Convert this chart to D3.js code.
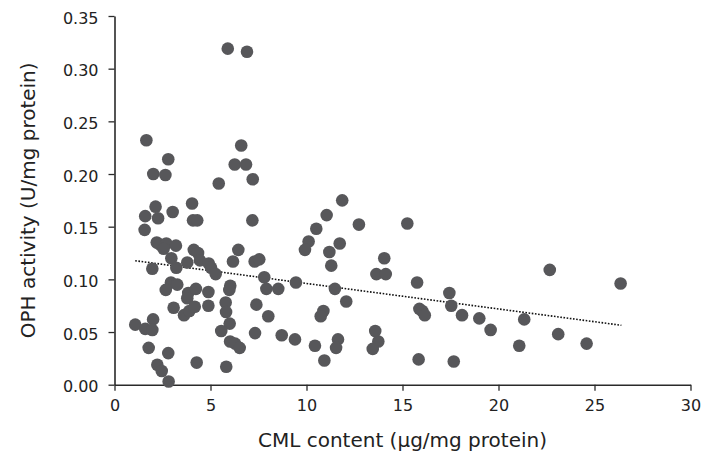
<!DOCTYPE html>
<html><head><meta charset="utf-8">
<script src="https://cdn.jsdelivr.net/npm/d3@7"></script>
<style>body{margin:0;background:#fff;} svg{display:block;}</style>
</head><body>
<script>
// CML content (µg/mg protein)
const cml = [5.90,6.90,1.66,6.60,2.80,6.26,6.85,2.02,2.65,7.20,5.43,2.14,3.03,4.04,
1.60,2.27,4.09,4.31,7.18,1.57,2.20,2.37,2.70,2.56,3.20,4.13,4.35,4.45,2.96,3.79,3.22,1.97,
4.91,5.03,5.27,6.45,6.17,7.30,7.54,7.80,9.45,2.94,3.27,2.67,3.84,4.24,3.79,4.89,6.03,5.98,
7.91,8.53,3.08,3.62,3.90,4.18,4.89,5.79,5.81,7.39,8.01,1.08,1.60,2.01,1.97,6.00,5.56,7.32,
8.71,9.40,1.78,2.80,6.02,6.28,6.52,2.23,2.46,4.28,5.82,2.82,
11.86,11.05,10.51,12.73,15.25,10.11,9.92,11.73,11.19,11.29,14.05,13.64,14.13,11.48,15.76,
17.44,17.54,12.07,10.88,10.74,15.88,16.03,16.16,18.10,19.00,10.44,11.64,11.54,13.58,13.74,
13.45,10.93,15.84,17.67,22.67,26.36,19.59,21.34,23.11,21.08,24.59];
// OPH activity (U/mg protein)
const oph = [0.319,0.316,0.232,0.227,0.214,0.209,0.209,0.200,0.199,0.195,0.191,0.169,0.164,0.172,
0.160,0.158,0.156,0.156,0.156,0.147,0.135,0.133,0.134,0.129,0.132,0.128,0.125,0.118,0.120,0.116,0.111,0.110,
0.115,0.111,0.105,0.128,0.117,0.117,0.119,0.102,0.097,0.097,0.095,0.090,0.087,0.091,0.082,0.088,0.094,0.090,
0.091,0.091,0.073,0.066,0.070,0.074,0.075,0.078,0.069,0.076,0.065,0.057,0.053,0.062,0.052,0.058,0.051,0.049,
0.047,0.043,0.035,0.030,0.041,0.039,0.035,0.019,0.013,0.021,0.017,0.003,
0.175,0.161,0.148,0.152,0.153,0.136,0.128,0.134,0.126,0.113,0.120,0.105,0.105,0.091,0.097,
0.087,0.075,0.079,0.070,0.065,0.072,0.070,0.066,0.066,0.063,0.037,0.043,0.035,0.051,0.041,
0.034,0.023,0.024,0.022,0.109,0.096,0.052,0.062,0.048,0.037,0.039];
// trend line endpoints
const trendX = [1.08, 26.4];
const trendY = [0.1177, 0.0564];
const xTicks = [0,5,10,15,20,25,30];
const yTicks = [0,0.05,0.10,0.15,0.20,0.25,0.30,0.35];

const W=704,H=461;
const m={left:114.5,right:690.5,top:16,bottom:384.7};
const svg=d3.select("body").append("svg").attr("width",W).attr("height",H);
const x=d3.scaleLinear().domain([0,30]).range([m.left,m.right]);
const y=d3.scaleLinear().domain([0,0.35]).range([m.bottom,m.top]);
const font="'DejaVu Sans', sans-serif";

const gx=svg.append("g").attr("transform",`translate(0,${m.bottom})`)
  .call(d3.axisBottom(x).tickValues(xTicks).tickSize(6).tickSizeOuter(0).tickPadding(9).tickFormat(d3.format("d")));
const gy=svg.append("g").attr("transform",`translate(${m.left},0)`)
  .call(d3.axisLeft(y).tickValues(yTicks).tickSize(6).tickSizeOuter(0).tickPadding(10).tickFormat(d3.format(".2f")));
[gx,gy].forEach(g=>{
  g.select(".domain").attr("stroke","#2a2a2a").attr("stroke-width",1.6);
  g.selectAll(".tick line").attr("stroke","#2a2a2a").attr("stroke-width",1.3);
  g.selectAll(".tick text").attr("fill","#222").style("font-family",font).style("font-size","16px");
});
gy.selectAll(".tick text").attr("dy","0.45em");

svg.append("line").attr("x1",x(trendX[0])).attr("y1",y(trendY[0]))
  .attr("x2",x(trendX[1])).attr("y2",y(trendY[1]))
  .attr("stroke","#111").attr("stroke-width",1.6).attr("stroke-dasharray","1.6,1.6");

svg.append("g").selectAll("circle").data(cml.map((c,i)=>[c,oph[i]])).join("circle")
  .attr("cx",d=>x(d[0])).attr("cy",d=>y(d[1])).attr("r",6.3).attr("fill","#57575a");

svg.append("text").attr("x",(m.left+m.right)/2).attr("y",447).attr("text-anchor","middle")
  .style("font-family",font).style("font-size","20px").attr("fill","#222").text("CML content (µg/mg protein)");
svg.append("text").attr("transform",`translate(35,${(m.top+m.bottom)/2}) rotate(-90)`).attr("text-anchor","middle")
  .style("font-family",font).style("font-size","20px").attr("fill","#222").text("OPH activity (U/mg protein)");
</script>
</body></html>
